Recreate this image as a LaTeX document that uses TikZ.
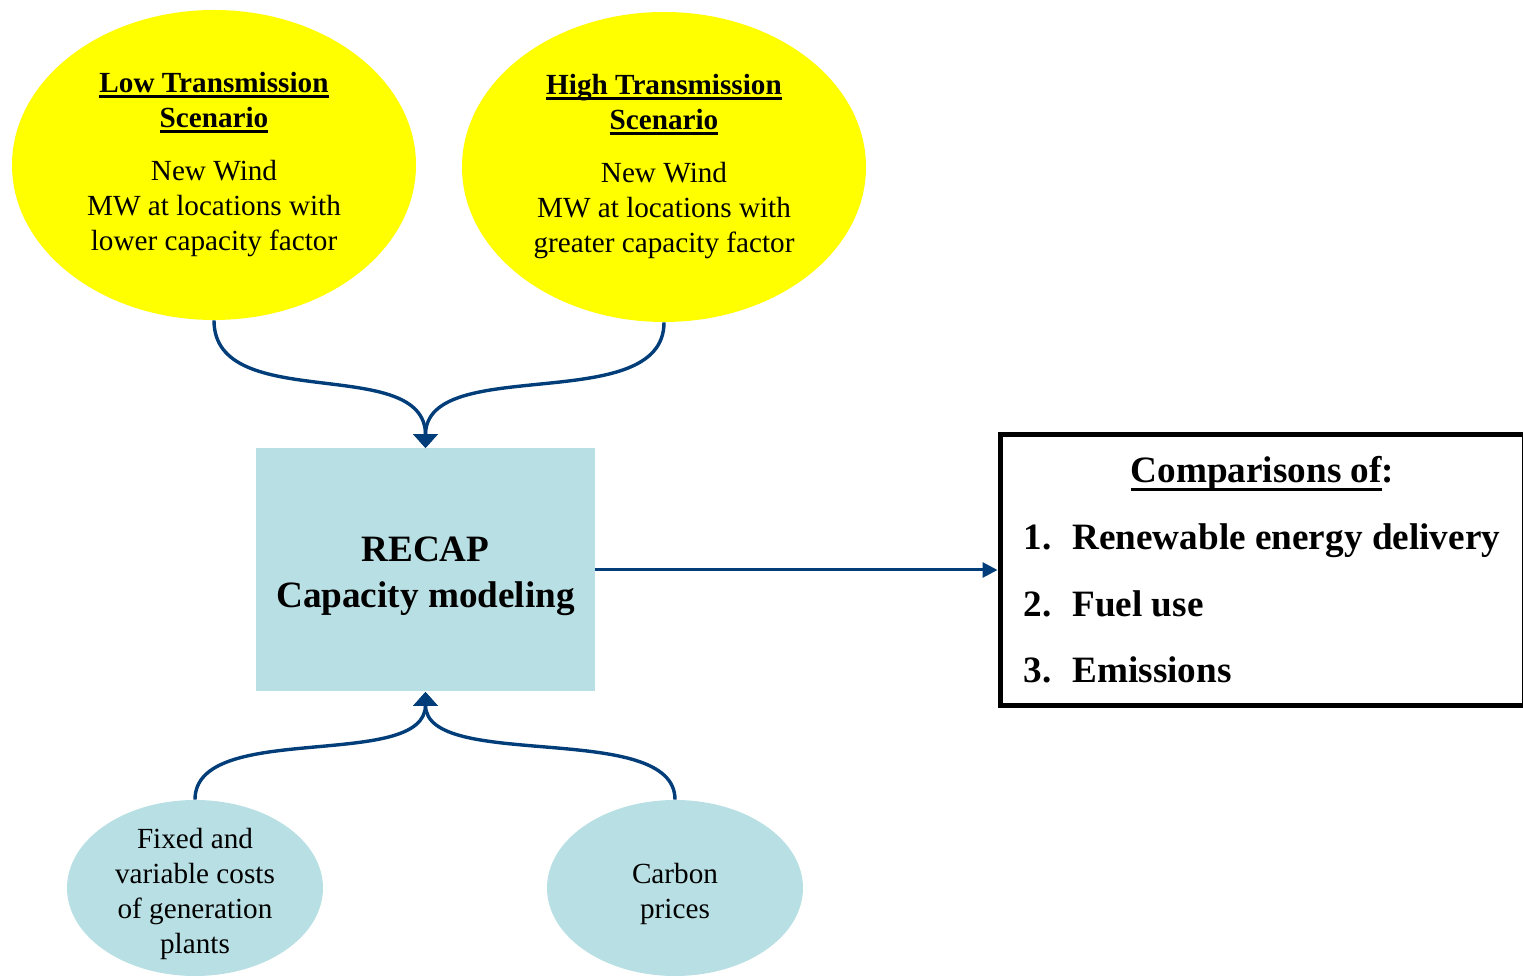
\documentclass[tikz,border=0pt]{standalone}
\usepackage{fontspec}
\setmainfont{Liberation Serif}
\usetikzlibrary{arrows.meta,shapes.geometric,positioning}
\definecolor{scenyellow}{RGB}{255,255,0}
\definecolor{recapfill}{RGB}{184,223,227}
\definecolor{flowblue}{RGB}{0,61,121}
\newsavebox{\ulbox}
\newcommand{\ultext}[2][2.4pt]{\sbox{\ulbox}{#2}\rlap{\usebox{\ulbox}}\rule[-#1]{\wd\ulbox}{1.3pt}}
\tikzset{
    scenario/.style={ellipse, fill=scenyellow, minimum width=202pt, minimum height=155pt,
        inner sep=0pt, align=center, font=\fontsize{14.6}{17.5}\selectfont},
    inputbubble/.style={ellipse, fill=recapfill, minimum width=128pt, minimum height=88pt,
        inner sep=-6pt, align=center, font=\fontsize{14.6}{17.5}\selectfont},
    model/.style={rectangle, fill=recapfill, minimum width=169.5pt, minimum height=121.5pt,
        align=center, font=\fontsize{18.6}{23}\selectfont\bfseries},
    result/.style={rectangle, draw=black, line width=2.5pt, minimum width=262.25pt,
        minimum height=135.5pt, inner sep=0pt},
    resulttext/.style={font=\fontsize{18.6}{23}\selectfont\bfseries, inner sep=0pt},
    feed/.style={draw=flowblue, line width=1.7pt, -{Triangle[width=12pt,length=7pt]}},
    feedstraight/.style={draw=flowblue, line width=1.5pt, -{Triangle[width=7.5pt,length=7.5pt]}}
}

\begin{document}
\begin{tikzpicture}[x=0.5pt, y=-0.5pt]
    \useasboundingbox (0,0) rectangle (1523,977);
    % scenarios
    \node[scenario] (low) at (214,165) {\textbf{\ultext{Low Transmission}}\\
        \textbf{\ultext{Scenario}}\\[9pt]
        New Wind\\ MW at locations with\\ lower capacity factor};
    \node[scenario] (high) at (664,167) {\textbf{\ultext{High Transmission}}\\
        \textbf{\ultext{Scenario}}\\[9pt]
        New Wind\\ MW at locations with\\ greater capacity factor};
    % model
    \node[model] (recap) at (425.5,570) {\rule{0pt}{18.5pt}RECAP\\ Capacity modeling};
    % inputs
    \node[inputbubble] (costs) at (195,888) {\rule{0pt}{16pt}Fixed and\\ variable costs\\ of generation\\ plants};
    \node[inputbubble] (carbon) at (675,888) {\rule{0pt}{16pt}Carbon\\ prices};
    % results
    \node[result] (comp) at (1262.25,570) {};
    \node[resulttext, anchor=base] (comptitle) at (1262.5,483) {\ultext[3.8pt]{Comparisons of}:};
    \node[resulttext, anchor=base west] (num1) at (1023,550) {1.};
    \node[resulttext, anchor=base west] (item1) at (1072,550) {Renewable energy delivery};
    \node[resulttext, anchor=base west] (num2) at (1023,617) {2.};
    \node[resulttext, anchor=base west] (item2) at (1072,617) {Fuel use};
    \node[resulttext, anchor=base west] (num3) at (1023,683) {3.};
    \node[resulttext, anchor=base west] (item3) at (1072,683) {Emissions};
    % connectors
    \draw[feed] (low.south) .. controls +(0,95) and +(0,-95) .. (recap.north);
    \draw[feed] (high.south) .. controls +(0,95) and +(0,-95) .. (recap.north);
    \draw[feed] (costs.north) .. controls +(0,-80) and +(0,80) .. (recap.south);
    \draw[feed] (carbon.north) .. controls +(0,-80) and +(0,80) .. (recap.south);
    \draw[feedstraight] (recap.east) -- (comp.west);
\end{tikzpicture}
\end{document}
